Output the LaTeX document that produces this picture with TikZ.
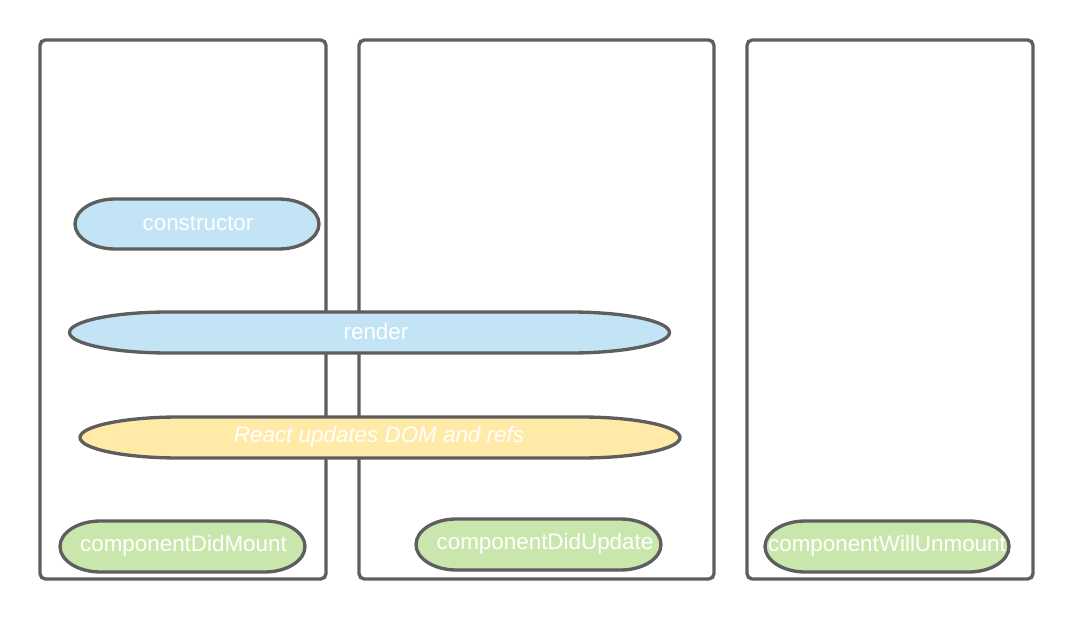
\documentclass[tikz,border=0pt]{standalone}
\usepackage{fontspec}
\setmainfont{Liberation Sans}
\definecolor{edge}{HTML}{5E5E5E}
\definecolor{bluefill}{HTML}{C3E4F5}
\definecolor{yellowfill}{HTML}{FFEAA8}
\definecolor{greenfill}{HTML}{C9E7AD}
\tikzset{
  phasebox/.style={draw=edge, line width=2.5pt, rounded corners=4pt, fill=white},
  pillline/.style={draw=edge, line width=2.5pt},
  pilltext/.style={text=white, font=\fontsize{16.8pt}{20pt}\selectfont, inner sep=0pt},
}
% name, cx, cy, w, h, fill, text x, text, extra font
\newcommand{\lifepill}[9]{%
  \path[pillline, fill=#6]
    ({#2-#4/2+0.165*#4},{#3-#5/2}) -- ({#2+#4/2-0.165*#4},{#3-#5/2})
    arc[start angle=-90, end angle=90, x radius={0.165*#4}, y radius={#5/2}]
    -- ({#2-#4/2+0.165*#4},{#3+#5/2})
    arc[start angle=90, end angle=270, x radius={0.165*#4}, y radius={#5/2}]
    -- cycle;
  \node[pilltext, #9] (#1) at (#7,{#3-1}) {#8};%
}
\begin{document}
\begin{tikzpicture}[x=0.75pt, y=-0.75pt]
\useasboundingbox (0,0) rectangle (1073,620);
% phase columns
\draw[phasebox] (40,40) rectangle (326,579) node[coordinate] (mountbox) {};
\draw[phasebox] (359,40) rectangle (714,579) node[coordinate] (updatebox) {};
\draw[phasebox] (747,40) rectangle (1033,579) node[coordinate] (unmountbox) {};
% lifecycle methods
\lifepill{constructor}{197}{224}{244}{50}{bluefill}{198}{constructor}{}
\lifepill{render}{369.5}{332.5}{600}{41}{bluefill}{376}{render}{}
\lifepill{domrefs}{380}{437.5}{600}{41}{yellowfill}{379}{React updates DOM and refs}{font=\fontsize{16.8pt}{20pt}\selectfont\itshape}
\lifepill{didmount}{182.5}{546.5}{245}{51}{greenfill}{183.5}{componentDidMount}{}
\lifepill{didupdate}{538.5}{544.5}{245}{51}{greenfill}{545}{componentDidUpdate}{}
\lifepill{willunmount}{887}{546.5}{244}{51}{greenfill}{887}{componentWillUnmount}{}
\end{tikzpicture}
\end{document}
